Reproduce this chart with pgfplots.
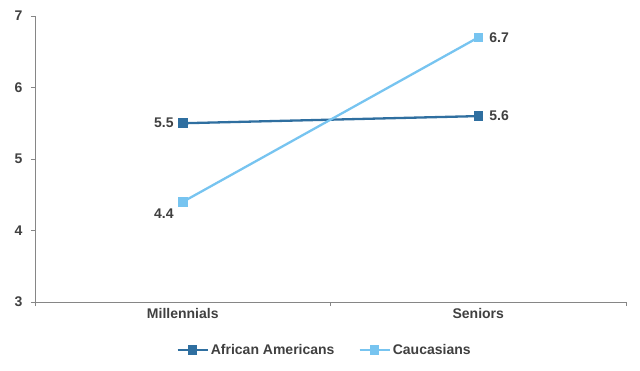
\documentclass[border=0pt]{standalone}
\usepackage{pgfplots}
\pgfplotsset{compat=1.18}
\usepackage{fontspec}
\setmainfont{Liberation Sans}
\definecolor{afr}{HTML}{2F6FA0}
\definecolor{cau}{HTML}{77C4F0}
\definecolor{txt}{HTML}{404040}
\definecolor{axc}{HTML}{868686}
\begin{document}
\begin{tikzpicture}
\path[use as bounding box] (0,0) rectangle (640pt,370pt);
\begin{axis}[
  scale only axis,
  width=591pt, height=286pt,
  at={(35pt,68pt)}, anchor=south west,
  xmin=0, xmax=2, ymin=3, ymax=7,
  ytick={3,4,5,6,7},
  xtick={0,1,2},
  xticklabels={},
  extra x ticks={0.5,1.5},
  extra x tick labels={Millennials,Seniors},
  extra x tick style={major tick length=0pt},
  axis x line*=bottom, axis y line*=left,
  axis line style={axc, line width=0.8pt, -},
  tick style={axc, line width=0.8pt},
  tick align=outside,
  major tick length=4pt,
  ticklabel style={font=\fontsize{14}{16}\selectfont\bfseries, text=txt},
  /pgf/number format/assume math mode=true,
  yticklabel style={xshift=-5pt},
  xticklabel style={yshift=-3pt},
  legend style={draw=none, fill=none, at={(0.49,-0.168)}, anchor=center,
    font=\fontsize{14}{16}\selectfont\bfseries, text=txt,
    /tikz/every even column/.append style={column sep=22pt}},
  legend columns=2,
  legend image code/.code={
    \draw[#1, mark=none] (0pt,0pt) -- (30pt,0pt);
    \draw[#1, only marks] plot coordinates {(15pt,0pt)};
  },
  nodes near coords,
  nodes near coords style={font=\fontsize{14}{16}\selectfont\bfseries, text=txt, anchor=west, inner sep=0pt, xshift=10pt},
  clip=false,
]
\addplot[afr, line width=2.3pt, mark=square*, mark size=3.6pt, mark options={solid},
  coordinate style/.condition={x<1}{/pgfplots/every node near coord/.append style={anchor=east, xshift=-18pt}}]
  coordinates {(0.5,5.5) (1.5,5.6)};
\addlegendentry{African Americans}
\addplot[cau, line width=2.3pt, mark=square*, mark size=3.6pt, mark options={solid},
  coordinate style/.condition={x<1}{/pgfplots/every node near coord/.append style={anchor=east, xshift=-18pt, yshift=-12pt}}]
  coordinates {(0.5,4.4) (1.5,6.7)};
\addlegendentry{Caucasians}
\end{axis}
\end{tikzpicture}
\end{document}
